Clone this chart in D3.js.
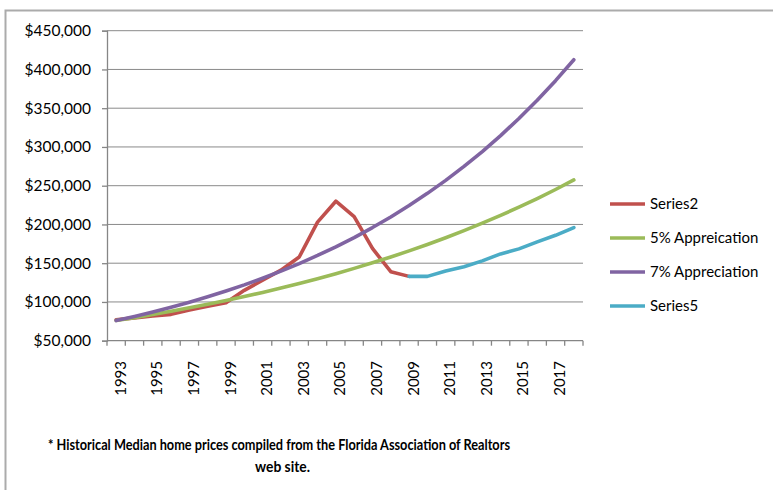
<!DOCTYPE html>
<html>
<head>
<meta charset="utf-8">
<script src="https://cdn.jsdelivr.net/npm/d3@7"></script>
<style>
  body { margin: 0; background: #fff; }
  svg { display: block; font-family: Lato, "Open Sans", sans-serif; }
</style>
</head>
<body>
<div id="vis1"></div>
<script>
// data
const YEARS = d3.range(1993, 2019);
const SERIES2 = [77000, 79500, 82000, 84000, 89500, 94500, 99000, 115000, 128000, 141000,
                 158000, 203000, 230000, 210000, 169000, 139000, 133000,
                 null, null, null, null, null, null, null, null, null];
const APPR5 = [76000, 79800, 83800, 88000, 92400, 97000, 101800, 106900, 112300, 117900,
               123800, 130000, 136500, 143300, 150500, 158000, 165900, 174200, 182900, 192000,
               201700, 211700, 222300, 233400, 245100, 257400];
const APPR7 = [76000, 81300, 87000, 93100, 99600, 106600, 114100, 122000, 130600, 139700,
               149500, 160000, 171200, 183100, 196000, 209700, 224400, 240100, 256900, 274900,
               294100, 314700, 336700, 360300, 385500, 412500];
const SERIES5 = [null, null, null, null, null, null, null, null, null, null,
                 null, null, null, null, null, null, 133000, 133000, 140000, 145500,
                 153000, 162000, 168500, 177500, 186000, 196000];
const Y_TICKS = [50000, 100000, 150000, 200000, 250000, 300000, 350000, 400000, 450000];
const X_LABELS = YEARS.filter((d, i) => i % 2 === 0);

const SERIES = [
  {name: "Series2", values: SERIES2, color: "#C0504D"},
  {name: "5% Appreication", values: APPR5, color: "#9BBB59"},
  {name: "7% Appreciation", values: APPR7, color: "#8064A2"},
  {name: "Series5", values: SERIES5, color: "#4BACC6"}
];

const FRAME_WIDTH = 773;
const FRAME_HEIGHT = 494;
const PLOT = {left: 107, right: 583, top: 30.7, bottom: 340.7};

const FRAME1 = d3.select("#vis1")
  .append("svg")
    .attr("width", FRAME_WIDTH)
    .attr("height", FRAME_HEIGHT);

// outer chart border (only top and left visible)
FRAME1.append("path")
  .attr("d", "M5.5,490 L5.5,10.5 L773,10.5")
  .attr("fill", "none")
  .attr("stroke", "#ababab")
  .attr("stroke-width", 2);

const X_SCALE = d3.scaleBand()
  .domain(YEARS)
  .range([PLOT.left, PLOT.right])
  .padding(0);
const Y_SCALE = d3.scaleLinear()
  .domain([50000, 450000])
  .range([PLOT.bottom, PLOT.top]);

const cx = (i) => X_SCALE(YEARS[i]) + X_SCALE.bandwidth() / 2;

// gridlines
FRAME1.append("g")
  .selectAll("line")
  .data(Y_TICKS.slice(1))
  .enter()
  .append("line")
    .attr("x1", PLOT.left)
    .attr("x2", PLOT.right)
    .attr("y1", (d) => Y_SCALE(d))
    .attr("y2", (d) => Y_SCALE(d))
    .attr("stroke", "#8a8a8a")
    .attr("stroke-width", 1);

// y axis
const yAxis = FRAME1.append("g")
  .attr("transform", "translate(" + PLOT.left + ",0)")
  .call(d3.axisLeft(Y_SCALE).tickValues(Y_TICKS).tickSize(5).tickPadding(11)
    .tickFormat((d) => "$" + d3.format(",")(d)));
yAxis.selectAll("line, path").attr("stroke", "#868686").attr("stroke-width", 1.3);
yAxis.selectAll("text").attr("font-size", "15.5px").attr("fill", "#000")
  .attr("font-family", "Lato, sans-serif");

// x axis line and ticks at category boundaries
FRAME1.append("line")
  .attr("x1", PLOT.left).attr("x2", PLOT.right)
  .attr("y1", PLOT.bottom).attr("y2", PLOT.bottom)
  .attr("stroke", "#868686").attr("stroke-width", 1.3);
FRAME1.append("g")
  .selectAll("line")
  .data(YEARS.concat([2019]))
  .enter()
  .append("line")
    .attr("x1", (d, i) => PLOT.left + i * X_SCALE.bandwidth())
    .attr("x2", (d, i) => PLOT.left + i * X_SCALE.bandwidth())
    .attr("y1", PLOT.bottom)
    .attr("y2", PLOT.bottom + 5)
    .attr("stroke", "#868686").attr("stroke-width", 1.3);

// x labels, rotated
FRAME1.append("g")
  .selectAll("text")
  .data(X_LABELS)
  .enter()
  .append("text")
    .attr("transform", (d) => "translate(" + (X_SCALE(d) + X_SCALE.bandwidth() / 2 + 9.5) + ",361) rotate(-90)")
    .attr("text-anchor", "end")
    .attr("font-size", "15px")
    .text((d) => d);

// lines
const line = d3.line()
  .defined((d) => d !== null)
  .x((d, i) => cx(i))
  .y((d) => Y_SCALE(d));

FRAME1.append("g")
  .selectAll("path")
  .data(SERIES)
  .enter()
  .append("path")
    .attr("d", (d) => line(d.values))
    .attr("fill", "none")
    .attr("stroke", (d) => d.color)
    .attr("stroke-width", 3.6)
    .attr("stroke-linejoin", "round")
    .attr("stroke-linecap", "round");

// legend
const legend = FRAME1.append("g")
  .selectAll("g")
  .data(SERIES)
  .enter()
  .append("g")
    .attr("transform", (d, i) => "translate(610," + (204 + i * 34) + ")");
legend.append("line")
  .attr("x1", 0).attr("x2", 35)
  .attr("stroke", (d) => d.color)
  .attr("stroke-width", 3.6);
legend.append("text")
  .attr("x", 40)
  .attr("dy", "0.35em")
  .attr("font-size", "15px")
  .text((d) => d.name);

// footnote
FRAME1.append("text")
  .attr("x", 48).attr("y", 450)
  .attr("font-size", "15px")
  .attr("font-weight", "bold")
  .attr("textLength", 462)
  .attr("lengthAdjust", "spacingAndGlyphs")
  .text("* Historical Median home prices compiled from the Florida Association of Realtors");
FRAME1.append("text")
  .attr("x", 255).attr("y", 472)
  .attr("font-size", "15px")
  .attr("font-weight", "bold")
  .attr("textLength", 55)
  .attr("lengthAdjust", "spacingAndGlyphs")
  .text("web site.");
</script>
</body>
</html>
